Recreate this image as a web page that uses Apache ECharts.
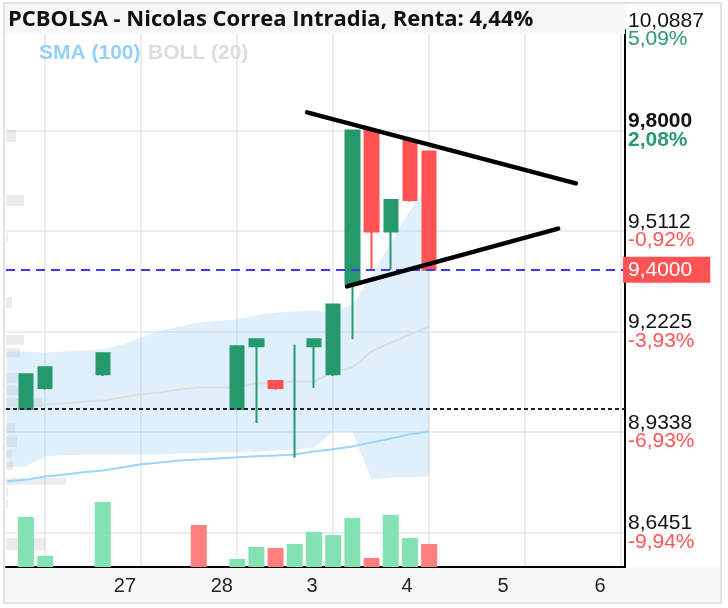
<!DOCTYPE html>
<html>
<head>
<meta charset="utf-8">
<script src="https://cdn.jsdelivr.net/npm/echarts@6/dist/echarts.min.js"></script>
<style>
  html, body { margin: 0; padding: 0; background: #fff; }
  #chart { width: 728px; height: 608px; }
</style>
</head>
<body>
<div id="chart"></div>
<script>
// Datos de velas (indice = periodo intradia)
const candleIdx   = [0, 1, 4, 11, 12, 13, 14, 15, 16, 17, 18, 19, 20, 21];
const candleOpen  = [9.00, 9.06, 9.10, 9.00, 9.18, 9.08, 9.18, 9.18, 9.10, 9.36, 9.80, 9.51, 9.77, 9.74];
const candleClose = [9.10, 9.12, 9.16, 9.18, 9.20, 9.06, 9.18, 9.20, 9.30, 9.80, 9.51, 9.60, 9.60, 9.40];
const candleLow   = [9.00, 9.055, 9.095, 9.00, 8.96, 9.055, 8.86, 9.06, 9.095, 9.20, 9.40, 9.40, 9.595, 9.40];
const candleHigh  = [9.10, 9.12, 9.16, 9.18, 9.20, 9.08, 9.185, 9.20, 9.30, 9.80, 9.80, 9.60, 9.77, 9.74];

// Volumen
const volIdx = [0, 1, 4, 9, 11, 12, 13, 14, 15, 16, 17, 18, 19, 20, 21];
const volume = [1500, 330, 1950, 1260, 240, 600, 570, 690, 1050, 960, 1470, 270, 1560, 870, 690];
const volUp  = [1, 1, 1, 0, 1, 1, 0, 1, 1, 1, 1, 0, 1, 1, 0];

// Indicadores: BOLL (20) y SMA (100)
const lineIdx   = [-1, 0, 1, 2, 3, 4, 5, 6, 7, 8, 9, 10, 11, 12, 13, 14, 15, 16, 17, 18, 19, 20, 21];
const bollUpper = [9.165, 9.165, 9.162, 9.165, 9.168, 9.171, 9.185, 9.205, 9.225, 9.237, 9.248, 9.254, 9.257, 9.269, 9.277, 9.280, 9.283, 9.277, 9.300, 9.383, 9.478, 9.570, 9.651];
const bollLower = [8.835, 8.835, 8.864, 8.866, 8.869, 8.869, 8.869, 8.869, 8.869, 8.872, 8.872, 8.875, 8.875, 8.878, 8.881, 8.884, 8.889, 8.935, 8.935, 8.797, 8.803, 8.803, 8.806];
const bollMid   = [8.999, 9.004, 9.013, 9.016, 9.021, 9.024, 9.033, 9.042, 9.047, 9.056, 9.062, 9.062, 9.062, 9.073, 9.076, 9.079, 9.079, 9.105, 9.119, 9.165, 9.191, 9.214, 9.237];
const sma100    = [8.792, 8.797, 8.806, 8.812, 8.818, 8.823, 8.832, 8.841, 8.846, 8.852, 8.855, 8.858, 8.861, 8.864, 8.866, 8.869, 8.878, 8.884, 8.892, 8.904, 8.915, 8.927, 8.935];

// Perfil de volumen por precio (izquierda)
const profileLow  = [9.767, 9.583, 9.477, 9.290, 9.184, 9.149, 9.074, 9.040, 9.005, 8.932, 8.891, 8.859, 8.825, 8.782, 8.747, 8.716, 8.594];
const profileHigh = [9.801, 9.615, 9.506, 9.322, 9.213, 9.175, 9.103, 9.068, 9.031, 8.960, 8.920, 8.882, 8.848, 8.802, 8.776, 8.739, 8.629];
const profileVol  = [1000, 1800, 200, 600, 1800, 1400, 1200, 1200, 3600, 900, 1100, 600, 700, 6000, 200, 200, 3900];

// Ejes
const yTicks    = [8.6451, 8.9338, 9.2225, 9.5112, 9.8000, 10.0887];
const yTickText = ['8,6451', '8,9338', '9,2225', '9,5112', '9,8000', '10,0887'];
const yPctText  = ['-9,94%', '-6,93%', '-3,93%', '-0,92%', '2,08%', '5,09%'];
const xGridVals = [1, 6, 11, 16, 21, 26, 31];
const xLabelPos = [5.15, 10.2, 14.9, 19.85, 24.85, 29.9];
const xLabelText = ['27', '28', '3', '4', '5', '6'];

// Lineas de referencia
const lastPrice = 9.40;
const prevClose = 9.00;
const trendUpper = [[14.64, 9.852], [28.64, 9.648]];
const trendLower = [[16.72, 9.352], [27.72, 9.518]];

const GREEN = '#26996c';
const RED = '#ff5252';

let chart = echarts.init(document.getElementById('chart'));

// Series de velas
let candleData = [], dojiData = [];
candleIdx.forEach((x, k) => {
    let item = [x, candleOpen[k], candleClose[k], candleLow[k], candleHigh[k]];
    if (candleOpen[k] === candleClose[k]) dojiData.push(item);
    else candleData.push(item);
});

let volData = volIdx.map((x, k) => ({
    value: [x, volume[k]],
    itemStyle: { color: volUp[k] ? '#84e3b3' : '#ff7f7f' }
}));

let profileData = profileLow.map((lo, k) => [lo, profileHigh[k], profileVol[k]]);

let option = {
    animation: false,
    backgroundColor: '#fff',
    grid: { left: 6, right: 103, top: 30, bottom: 41 },
    xAxis: [
        {
            type: 'value',
            min: -1.042,
            max: 31.2,
            axisLine: { show: true, onZero: false, lineStyle: { color: '#000', width: 2 } },
            axisTick: { show: false, customValues: xGridVals },
            splitLine: { show: true, lineStyle: { color: '#e6e6e6', width: 1.5 } },
            axisLabel: {
                customValues: xLabelPos,
                formatter: v => xLabelText[xLabelPos.indexOf(v)],
                color: '#222',
                fontFamily: 'Liberation Sans',
                fontSize: 20,
                margin: 9
            }
        },
        { type: 'value', min: 0, max: 61900, show: false }
    ],
    yAxis: [
        {
            type: 'value',
            position: 'right',
            min: 8.546,
            max: 10.0887,
            axisLine: { show: true, onZero: false, lineStyle: { color: '#000', width: 2 } },
            axisTick: { show: false, customValues: yTicks },
            splitLine: { show: true, lineStyle: { color: '#e6e6e6', width: 1.5 } },
            axisLabel: {
                customValues: yTicks,
                margin: 3,
                formatter: v => {
                    let k = yTicks.indexOf(v);
                    let pct = yPctText[k];
                    let bold = v === 9.8;
                    let up = pct.charAt(0) !== '-';
                    return '{' + (bold ? 'pb' : 'p') + '|' + yTickText[k] + '}\n{' +
                        (up ? (bold ? 'ub' : 'u') : 'd') + '|' + pct + '}';
                },
                rich: {
                    p:  { color: '#111', fontSize: 21, lineHeight: 18.5, fontFamily: 'Liberation Sans' },
                    pb: { color: '#111', fontSize: 21, lineHeight: 18.5, fontFamily: 'Liberation Sans', fontWeight: 'bold' },
                    u:  { color: '#2b9a6c', fontSize: 21, lineHeight: 18.5, fontFamily: 'Liberation Sans' },
                    ub: { color: '#2b9a6c', fontSize: 21, lineHeight: 18.5, fontFamily: 'Liberation Sans', fontWeight: 'bold' },
                    d:  { color: '#ff5555', fontSize: 21, lineHeight: 18.5, fontFamily: 'Liberation Sans' }
                }
            }
        },
        { type: 'value', min: 0, max: 16100, show: false }
    ],
    graphic: [
        { type: 'rect', z: -1, shape: { x: 5, y: 567, width: 715, height: 35 }, style: { fill: '#f7f7f7' } },
        { type: 'rect', z: 5, shape: { x: 5, y: 4, width: 620, height: 30 }, style: { fill: '#f7f7f7' } },
        { type: 'rect', z: 7, shape: { x: 4, y: 3, width: 717, height: 600 }, style: { fill: 'none', stroke: '#e3e3e3', lineWidth: 2 } },
        {
            type: 'text', z: 8, x: 8, y: 20,
            style: { text: 'PCBOLSA - Nicolas Correa Intradia, Renta: 4,44%', font: 'bold 22px "Open Sans"', fill: '#111', verticalAlign: 'middle' }
        },
        {
            type: 'text', z: 8, x: 39, y: 53,
            style: { text: 'SMA (100)', font: 'bold 21px "Liberation Sans"', fill: '#94d0f8', verticalAlign: 'middle' }
        },
        {
            type: 'text', z: 8, x: 148, y: 53,
            style: { text: 'BOLL (20)', font: 'bold 21px "Liberation Sans"', fill: '#dddddd', verticalAlign: 'middle' }
        }
    ],
    series: [
        {
            name: 'Perfil',
            type: 'custom',
            xAxisIndex: 1,
            yAxisIndex: 0,
            z: 1,
            silent: true,
            data: profileData,
            renderItem: (params, api) => {
                let top = api.coord([api.value(2), api.value(1)]);
                let bot = api.coord([0, api.value(0)]);
                return {
                    type: 'rect',
                    shape: { x: bot[0], y: top[1], width: top[0] - bot[0], height: bot[1] - top[1] },
                    style: { fill: 'rgba(170,170,170,0.22)' }
                };
            }
        },
        {
            // Banda de Bollinger: un solo poligono superior + inferior
            name: 'BOLL banda',
            type: 'custom',
            z: 2,
            silent: true,
            clip: true,
            data: [[lineIdx[0], bollUpper[0]]],
            renderItem: (params, api) => {
                let top = lineIdx.map((x, k) => api.coord([x, bollUpper[k]]));
                let bottom = lineIdx.map((x, k) => api.coord([x, bollLower[k]])).reverse();
                return {
                    type: 'polygon',
                    shape: { points: top.concat(bottom) },
                    style: { fill: 'rgba(150,205,245,0.3)' }
                };
            }
        },
        {
            name: 'BOLL (20)',
            type: 'line',
            z: 3,
            symbol: 'none',
            lineStyle: { color: '#dddddd', width: 2 },
            data: lineIdx.map((x, k) => [x, bollMid[k]])
        },
        {
            name: 'SMA (100)',
            type: 'line',
            z: 3,
            symbol: 'none',
            lineStyle: { color: '#9dd4fa', width: 2 },
            data: lineIdx.map((x, k) => [x, sma100[k]])
        },
        {
            name: 'Volumen',
            type: 'bar',
            xAxisIndex: 0,
            yAxisIndex: 1,
            z: 3,
            barWidth: 16,
            data: volData
        },
        {
            name: 'Doji',
            type: 'candlestick',
            z: 4,
            barWidth: 1,
            encode: { x: 0, y: [1, 2, 3, 4] },
            itemStyle: { color: GREEN, color0: GREEN, borderColor: GREEN, borderColor0: GREEN, borderColorDoji: GREEN, borderWidth: 2 },
            data: dojiData
        },
        {
            name: 'Nicolas Correa',
            type: 'candlestick',
            z: 4,
            barWidth: 14,
            encode: { x: 0, y: [1, 2, 3, 4] },
            itemStyle: { color: GREEN, color0: RED, borderColor: GREEN, borderColor0: RED, borderWidth: 2 },
            data: candleData,
            markLine: {
                silent: true,
                symbol: ['none', 'none'],
                z: 6,
                data: [
                    {
                        yAxis: lastPrice,
                        lineStyle: { color: '#3b3bf2', width: 2, type: [9, 6] },
                        label: {
                            show: true, position: 'end', distance: -2,
                            formatter: '9,4000', color: '#fff', backgroundColor: RED,
                            fontSize: 21, fontFamily: 'Liberation Sans', padding: [3, 18, 2, 5]
                        }
                    },
                    {
                        yAxis: prevClose,
                        lineStyle: { color: '#222', width: 2, type: [4, 3] },
                        label: { show: false }
                    },
                    [
                        { coord: trendUpper[0], lineStyle: { color: '#000', width: 4.5, type: 'solid', cap: 'round' }, label: { show: false } },
                        { coord: trendUpper[1] }
                    ],
                    [
                        { coord: trendLower[0], lineStyle: { color: '#000', width: 4.5, type: 'solid', cap: 'round' }, label: { show: false } },
                        { coord: trendLower[1] }
                    ]
                ]
            }
        }
    ]
};

chart.setOption(option);
</script>
</body>
</html>
